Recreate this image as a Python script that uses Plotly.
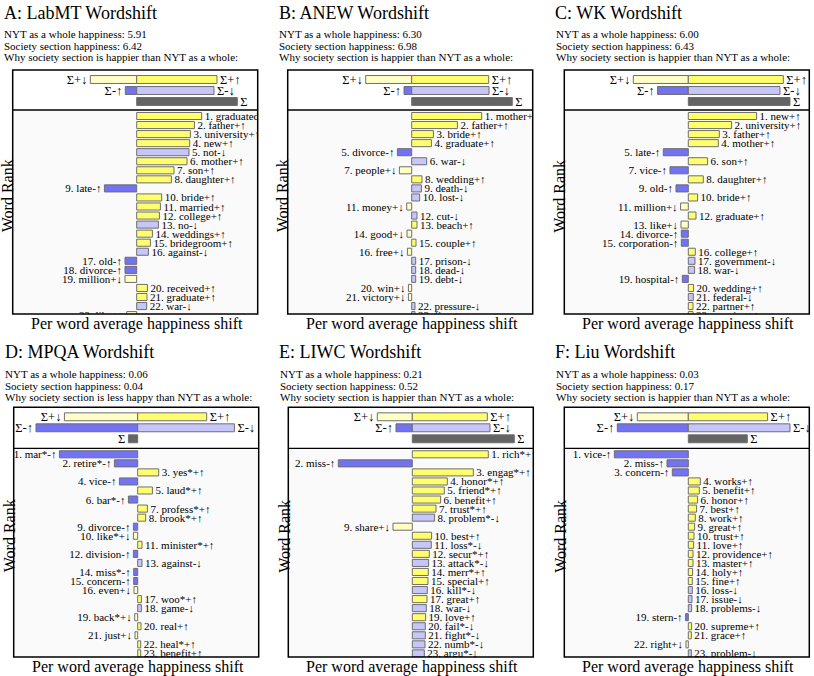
import plotly.graph_objects as go

W, H = 814, 676

# ---------------- data ----------------
A_words = ["graduated", "father", "university", "new", "not", "mother", "son", "daughter", "late", "bride",
           "married", "college", "no", "weddings", "bridegroom", "against", "old", "divorce", "million",
           "received", "graduate", "war", "like"]
A_types = ["+↑", "+↑", "+↑", "+↑", "-↓", "+↑", "+↑", "+↑", "-↑", "+↑", "+↑", "+↑", "-↓", "+↑", "+↑", "-↓",
           "-↑", "-↑", "+↓", "+↑", "+↑", "-↓", "+↓"]
A_shift = [65, 57.7, 53.7, 53, 52.3, 50.3, 37.3, 34.7, -32.3, 25, 23.7, 22.7, 21.7, 15.7, 13.7, 11.7,
           -11.7, -11.7, -11.7, 10.7, 10.3, 10, -10]
A_sums = [-46.4, 80.3, -11.4, 77.3, 100.6]

B_words = ["mother", "father", "bride", "graduate", "divorce", "war", "people", "wedding", "death", "lost",
           "money", "cut", "beach", "good", "couple", "free", "prison", "dead", "debt", "win", "victory",
           "pressure", "fire"]
B_types = ["+↑", "+↑", "+↑", "+↑", "-↑", "-↓", "+↓", "+↑", "-↓", "-↓", "+↓", "-↓", "+↑", "+↓", "+↑", "+↓",
           "-↓", "-↓", "-↓", "+↓", "+↓", "-↓", "-↓"]
B_shift = [70, 45.7, 21.7, 19.7, -14.3, 15, -12.3, 10.3, 9.7, 8, -5, 5.3, 5.3, -4.7, 4.3, -4.3,
           4, 4, 4, -3.3, -3.3, 3.3, 3.3]
B_sums = [-46, 77, -7.7, 77.3, 100.6]

C_words = ["new", "university", "father", "mother", "late", "son", "vice", "daughter", "old", "bride",
           "million", "graduate", "like", "divorce", "corporation", "college", "government", "war",
           "hospital", "wedding", "federal", "partner", "evening"]
C_types = ["+↑", "+↑", "+↑", "+↑", "-↑", "+↑", "-↑", "+↑", "-↑", "+↑", "+↓", "+↑", "+↓", "-↑", "-↑", "+↑",
           "-↓", "-↓", "-↑", "+↑", "-↓", "+↑", "+↑"]
C_shift = [68.3, 43.3, 31, 30, -25, 19.3, -18.3, 15, -12.3, 9.3, -7.7, 7.7, -7.3, -7, -7, 7,
           6.7, 6.3, -6, 5.3, 5, 4.7, 4.7]
C_sums = [-55, 95, -30.7, 91.7, 101.7]

D_words = ["mar*", "retire*", "yes*", "vice", "laud*", "bar*", "profess*", "brook*", "divorce", "like*",
           "minister*", "division", "against", "miss*", "concern", "even", "woo*", "game", "back*", "real",
           "just", "heal*", "benefit"]
D_types = ["-↑", "-↑", "+↑", "-↑", "+↑", "-↑", "+↑", "+↑", "-↑", "+↓", "+↑", "-↑", "-↓", "-↑", "-↑", "+↓",
           "+↑", "-↓", "+↓", "+↑", "+↓", "+↑", "+↑"]
D_shift = [-78.3, -23.3, 21, -18.3, 14.7, -9.3, 9.7, 8, -4.3, -4.3, 4.3, -4.3, 4.3, -4, -4, -3.7,
           3.7, 3.7, -3, 3.3, -2.7, 3, 3]
D_sums = [-73.3, 69, -101.7, 96.7, -9.3]

E_words = ["rich*", "miss", "engag*", "honor*", "friend*", "benefit", "trust*", "problem*", "share", "best",
           "loss*", "secur*", "attack*", "merr*", "special", "kill*", "great", "war", "love", "fail*",
           "fight*", "numb*", "argu*"]
E_types = ["+↑", "-↑", "+↑", "+↑", "+↑", "+↑", "+↑", "-↓", "+↓", "+↑", "-↓", "+↑", "-↓", "+↑", "+↑", "-↓",
           "+↑", "-↓", "+↑", "-↓", "-↓", "-↓", "-↓"]
E_shift = [76, -74, 61, 35, 32, 28.3, 23.7, 22.3, -19.3, 19.3, 19, 17, 16.3, 16, 15.7, 15,
           14.7, 14, 13.3, 13, 13, 12.7, 12]
E_sums = [-35, 75, -16.3, 77.7, 102]

F_words = ["vice", "miss", "concern", "works", "benefit", "honor", "best", "work", "great", "trust", "love",
           "providence", "master", "holy", "fine", "loss", "issue", "problems", "stern", "supreme", "grace",
           "right", "problem"]
F_types = ["-↑", "-↑", "-↑", "+↑", "+↑", "+↑", "+↑", "+↑", "+↑", "+↑", "+↑", "+↑", "+↑", "+↑", "+↑", "-↓",
           "-↓", "-↓", "-↑", "+↑", "+↑", "+↓", "-↓"]
F_shift = [-74, -21.3, -16, 12, 11, 9.3, 8.3, 7, 6.3, 5.7, 5.3, 4.7, 4.7, 4.3, 4, 4,
           3.7, 3.3, -2.7, 3.3, 3, -2.3, 3]
F_sums = [-51, 79.3, -71, 101.7, 59]

titles = ["A: LabMT Wordshift", "B: ANEW Wordshift", "C: WK Wordshift",
          "D: MPQA Wordshift", "E: LIWC Wordshift", "F: Liu Wordshift"]
nyt_happiness = ["5.91", "6.30", "6.00", "0.06", "0.21", "0.03"]
society_happiness = ["6.42", "6.98", "6.43", "0.04", "0.52", "0.17"]
comparison = ["happier", "happier", "happier", "less happy", "happier", "happier"]

# ---------------- styling ----------------
FONT = "Liberation Serif"
COLORS = {"+↑": "#FFFF6E", "+↓": "#FFFFC6", "-↑": "#7272F2", "-↓": "#C6C6FA"}
SUM_COLOR = "#646464"
EDGE = "#6E6E6E"

# geometry (pixels)
centers = [136.7, 411.7, 688.3, 137.7, 412.3, 688.3]
rows = [
    dict(title=12.7, lines=[34.3, 45.7, 57.3], top=70, div=110, bottom=314, xlab=324, ylab=196),
    dict(title=351.7, lines=[374.3, 385.7, 396.7], top=407.3, div=448.3, bottom=657, xlab=667, ylab=536),
]
LEFT_EXT, RIGHT_EXT = 124, 121
ROW_PX = 9.05
ROW1_OFF = 6.0
TOP_ROW_PX = 11.0
TOP_ROW1_OFF = 9.5

data = [
    (A_words, A_types, A_shift, A_sums),
    (B_words, B_types, B_shift, B_sums),
    (C_words, C_types, C_shift, C_sums),
    (D_words, D_types, D_shift, D_sums),
    (E_words, E_types, E_shift, E_sums),
    (F_words, F_types, F_shift, F_sums),
]


def px(x):
    return x / W


def py(y):
    return 1 - y / H


fig = go.Figure()
layout = dict(width=W, height=H, margin=dict(l=0, r=0, t=0, b=0), autosize=False,
              paper_bgcolor="white", plot_bgcolor="rgba(0,0,0,0)", showlegend=False,
              barmode="overlay", font=dict(family=FONT, color="black"))
shapes = []
annotations = []

for i, (words, types, shift, sums) in enumerate(data):
    g = rows[i // 3]
    cx = centers[i]
    bl, br = cx - LEFT_EXT, cx + RIGHT_EXT
    ta, tb = 2 * i + 1, 2 * i + 2
    xd = [px(bl), px(br)]

    # top summary box axes
    top_lo = -TOP_ROW1_OFF / TOP_ROW_PX
    top_hi = (g["div"] - g["top"] - TOP_ROW1_OFF) / TOP_ROW_PX
    layout[f"xaxis{ta}"] = dict(domain=xd, range=[-LEFT_EXT, RIGHT_EXT], visible=False, anchor=f"y{ta}")
    layout[f"yaxis{ta}"] = dict(domain=[py(g["div"]), py(g["top"])], range=[top_hi, top_lo],
                                visible=False, anchor=f"x{ta}")
    # main box axes
    m_lo = 1 - ROW1_OFF / ROW_PX
    m_hi = 1 + (g["bottom"] - g["div"] - ROW1_OFF) / ROW_PX
    layout[f"xaxis{tb}"] = dict(domain=xd, range=[-LEFT_EXT, RIGHT_EXT], visible=False, anchor=f"y{tb}")
    layout[f"yaxis{tb}"] = dict(domain=[py(g["bottom"]), py(g["div"])], range=[m_hi, m_lo],
                                visible=False, anchor=f"x{tb}")

    xa = "x" if ta == 1 else f"x{ta}"
    ya = "y" if ta == 1 else f"y{ta}"

    # summary bars
    sum_rows = [
        ([sums[0], sums[1]], [0, 0], [COLORS["+↓"], COLORS["+↑"]], ["Σ+↓", "Σ+↑"]),
        ([sums[2], sums[3]], [1, 1], [COLORS["-↑"], COLORS["-↓"]], ["Σ-↑", "Σ-↓"]),
        ([sums[4]], [2], [SUM_COLOR], ["Σ"]),
    ]
    for xs, ys, cols, txt in sum_rows:
        fig.add_trace(go.Bar(x=xs, y=ys, orientation="h", width=0.72, xaxis=xa, yaxis=ya,
                             marker=dict(color=cols, line=dict(color=EDGE, width=1)),
                             text=txt, textposition="outside", constraintext="none", textangle=0,
                             cliponaxis=True, outsidetextfont=dict(family=FONT, size=12.5, color="black"),
                             hoverinfo="skip"))

    # word bars
    ranks = list(range(1, len(words) + 1))
    labels = [f"{r}. {w}{t}" for r, w, t in zip(ranks, words, types)]
    fig.add_trace(go.Bar(x=shift, y=ranks, orientation="h", width=0.78,
                         xaxis=f"x{tb}", yaxis=f"y{tb}",
                         marker=dict(color=[COLORS[t] for t in types], line=dict(color=EDGE, width=1)),
                         text=labels, textposition="outside", constraintext="none", textangle=0,
                         cliponaxis=True, outsidetextfont=dict(family=FONT, size=11, color="black"),
                         hoverinfo="skip"))

    # frames
    shapes.append(dict(type="rect", xref="paper", yref="paper", x0=px(bl), x1=px(br),
                       y0=py(g["bottom"]), y1=py(g["div"]), fillcolor="#FAFAFA", line=dict(width=0),
                       layer="below"))
    shapes.append(dict(type="rect", xref="paper", yref="paper", x0=px(bl), x1=px(br),
                       y0=py(g["bottom"]), y1=py(g["top"]), line=dict(color="black", width=1.5),
                       fillcolor="rgba(0,0,0,0)", layer="above"))
    shapes.append(dict(type="line", xref="paper", yref="paper", x0=px(bl), x1=px(br),
                       y0=py(g["div"]), y1=py(g["div"]), line=dict(color="black", width=1.3),
                       layer="above"))

    # texts
    tx = cx - 135
    annotations.append(dict(text=titles[i], x=px(tx), y=py(g["title"]), xref="paper", yref="paper",
                            xanchor="left", yanchor="middle", showarrow=False,
                            font=dict(family=FONT, size=18, color="black")))
    lines = [f"NYT as a whole happiness: {nyt_happiness[i]}",
             f"Society section happiness: {society_happiness[i]}",
             f"Why society section is {comparison[i]} than NYT as a whole:"]
    for ln, ly in zip(lines, g["lines"]):
        annotations.append(dict(text=ln, x=px(tx + 0.5), y=py(ly), xref="paper", yref="paper",
                                xanchor="left", yanchor="middle", showarrow=False,
                                font=dict(family=FONT, size=11, color="black")))
    annotations.append(dict(text="Word Rank", x=px(bl - 4.5), y=py(g["ylab"]), xref="paper", yref="paper",
                            xanchor="center", yanchor="middle", showarrow=False, textangle=-90,
                            font=dict(family=FONT, size=16, color="black")))
    annotations.append(dict(text="Per word average happiness shift", x=px(cx), y=py(g["xlab"]),
                            xref="paper", yref="paper", xanchor="center", yanchor="middle",
                            showarrow=False, font=dict(family=FONT, size=16, color="black")))

layout["shapes"] = shapes
layout["annotations"] = annotations
fig.update_layout(**layout)
fig.write_html("out.html", config={"displayModeBar": False},
               post_script="document.body.style.margin='0';document.body.style.overflow='hidden';")
